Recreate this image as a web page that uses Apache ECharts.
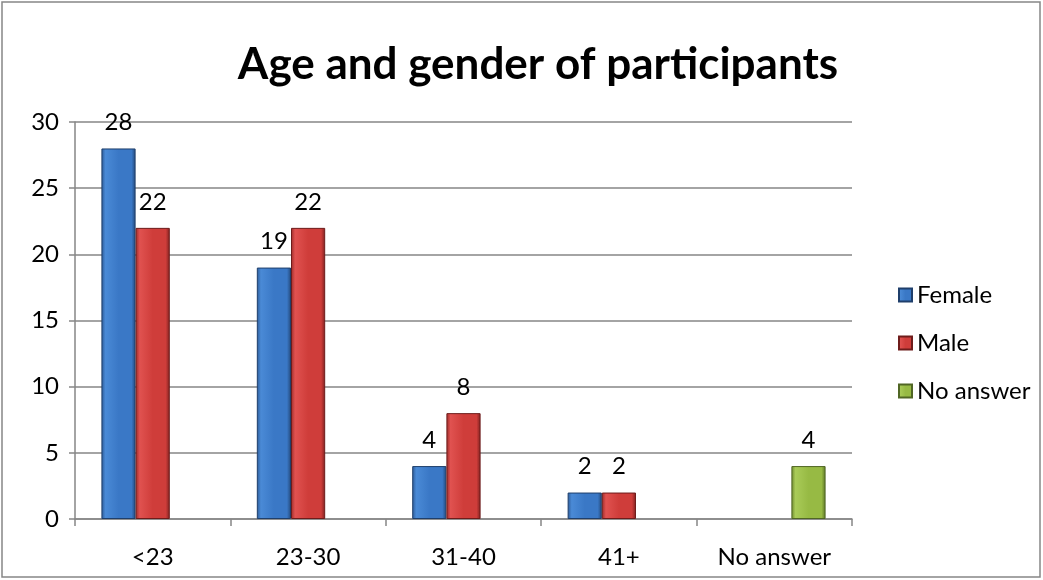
<!DOCTYPE html>
<html>
<head>
<meta charset="utf-8">
<script src="https://cdn.jsdelivr.net/npm/echarts@6/dist/echarts.min.js"></script>
<style>
    html,body{margin:0;padding:0;background:#fff;}
    #chart{width:1043px;height:580px;}
</style>
</head>
<body>
<div id="chart"></div>
<script>
// data
var categories = ['<23', '23-30', '31-40', '41+', 'No answer'];
var female = [28, 19, 4, 2, null];
var male = [22, 22, 8, 2, null];
var noAnswer = [null, null, null, null, 4];
var yTicks = [0, 5, 10, 15, 20, 25, 30];

function bevel(edge, mid, light, dark){
    return new echarts.graphic.LinearGradient(0, 0, 1, 0, [
        {offset: 0, color: edge},
        {offset: 0.12, color: light},
        {offset: 0.5, color: mid},
        {offset: 0.88, color: mid},
        {offset: 1, color: dark}
    ]);
}

function makeSeries(name, data, fill, border){
    return {
        name: name,
        type: 'bar',
        data: data,
        barGap: '0%',
        barCategoryGap: '34%',
        itemStyle: {color: fill, borderColor: border, borderWidth: 1},
        label: {
            show: true,
            position: 'top',
            distance: 14,
            color: '#000',
            fontSize: 24,
            fontFamily: 'Lato'
        }
    };
}

var chart = echarts.init(document.getElementById('chart'));
var option = {
    animation: false,
    title: {
        text: 'Age and gender of participants',
        left: 533,
        textAlign: 'center',
        top: 38,
        textStyle: {fontFamily: 'Lato', fontWeight: 'bold', fontSize: 44, color: '#000'}
    },
    legend: {
        orient: 'vertical',
        left: 893,
        top: 278,
        itemWidth: 13,
        itemHeight: 13,
        itemGap: 24,
        icon: 'rect',
        textStyle: {fontFamily: 'Lato', fontSize: 24, color: '#000'},
        data: ['Female', 'Male', 'No answer']
    },
    grid: {left: 75, right: 191, top: 122, bottom: 61},
    xAxis: {
        type: 'category',
        data: categories,
        axisLine: {lineStyle: {color: '#868686', width: 1.5}},
        axisTick: {show: true, length: 7, lineStyle: {color: '#868686', width: 1.5}},
        axisLabel: {color: '#000', fontFamily: 'Lato', fontSize: 24, margin: 26}
    },
    yAxis: {
        type: 'value',
        min: yTicks[0],
        max: yTicks[yTicks.length - 1],
        interval: yTicks[1] - yTicks[0],
        axisLine: {show: true, lineStyle: {color: '#868686', width: 1.5}},
        axisTick: {show: true, length: 6, lineStyle: {color: '#868686', width: 1.5}},
        axisLabel: {color: '#000', fontFamily: 'Lato', fontSize: 24, margin: 16},
        splitLine: {lineStyle: {color: '#868686', width: 1.5}}
    },
    graphic: [{
        type: 'rect',
        shape: {x: 2, y: 2, width: 1038, height: 575},
        style: {fill: 'none', stroke: '#868686', lineWidth: 1.5},
        silent: true
    }],
    series: [
        makeSeries('Female', female, bevel('#2c5a96', '#3a78c6', '#4a8ad6', '#24497a'), '#1f3f6b'),
        makeSeries('Male', male, bevel('#9c2a28', '#cf3d3a', '#e05250', '#7e2120'), '#6e1c1b'),
        makeSeries('No answer', noAnswer, bevel('#6f8a2e', '#97ba44', '#a9cb58', '#5d7527'), '#506624')
    ]
};
chart.setOption(option);
</script>
</body>
</html>
